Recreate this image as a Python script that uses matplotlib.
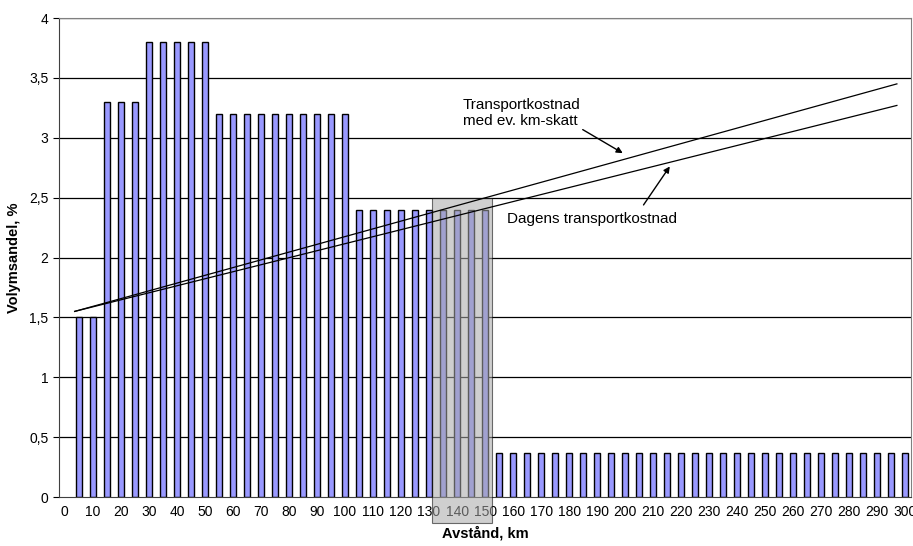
import numpy as np
import matplotlib.pyplot as plt
from matplotlib.patches import Rectangle

plt.rcParams['font.family'] = ['Liberation Sans', 'DejaVu Sans']

# %% Data
distance = list(range(5, 301, 5))  # km
share = [1.5] * 2 + [3.3] * 3 + [3.8] * 5 + [3.2] * 10 + [2.4] * 10 + [0.37] * 30  # %

xticks = list(range(0, 301, 10))
yticks = [0, 0.5, 1, 1.5, 2, 2.5, 3, 3.5, 4]
ylabels = ['0', '0,5', '1', '1,5', '2', '2,5', '3', '3,5', '4']

# cost lines (start/end points)
line_x = [3.5, 297]
cost_tax = [1.55, 3.45]
cost_today = [1.55, 3.27]

# highlighted zone
zone_x = [131, 152.5]
zone_y = [-0.22, 2.5]

# %% Plot
fig = plt.figure(figsize=(9.13, 5.46), dpi=100)
ax = fig.add_axes([0.0646, 0.0897, 0.9334, 0.8773])

for y in yticks[1:]:
    ax.axhline(y, color='black', lw=0.9, zorder=1)

ax.bar(distance, share, width=2.1, color='#9999FF', edgecolor='black', lw=1.0, zorder=2)

rect = Rectangle((zone_x[0], zone_y[0]), zone_x[1] - zone_x[0], zone_y[1] - zone_y[0],
                 facecolor='#a8a8a8', alpha=0.55, edgecolor='black', lw=0.8,
                 clip_on=False, zorder=3)
ax.add_patch(rect)

ax.plot(line_x, cost_tax, color='black', lw=0.9, zorder=4)
ax.plot(line_x, cost_today, color='black', lw=0.9, zorder=4)

ax.text(142, 3.33, 'Transportkostnad\nmed ev. km-skatt', fontsize=11, va='top', linespacing=1.15)
ax.annotate('', xy=(200, 2.86), xytext=(184, 3.08),
            arrowprops=dict(arrowstyle='-|>', color='black', lw=1, mutation_scale=9))
ax.text(158, 2.32, 'Dagens transportkostnad', fontsize=11, va='center')
ax.annotate('', xy=(216.5, 2.78), xytext=(206, 2.42),
            arrowprops=dict(arrowstyle='-|>', color='black', lw=1, mutation_scale=9))

ax.set_xlim(-2.1, 302.1)
ax.set_ylim(0, 4)
ax.set_xticks(xticks)
ax.set_xticklabels([str(t) for t in xticks], fontsize=10)
ax.set_yticks(yticks)
ax.set_yticklabels(ylabels, fontsize=10)
ax.tick_params(axis='x', length=0, pad=6)
ax.tick_params(axis='y', length=4, width=0.8)

ax.set_xlabel('Avstånd, km', fontsize=10.5, fontweight='bold', labelpad=5)
ax.set_ylabel('Volymsandel, %', fontsize=10.5, fontweight='bold', labelpad=6)

for s in ['top', 'right']:
    ax.spines[s].set_color('#808080')
for s in ['left', 'bottom']:
    ax.spines[s].set_color('#404040')

fig.savefig('out.png', dpi=100)
